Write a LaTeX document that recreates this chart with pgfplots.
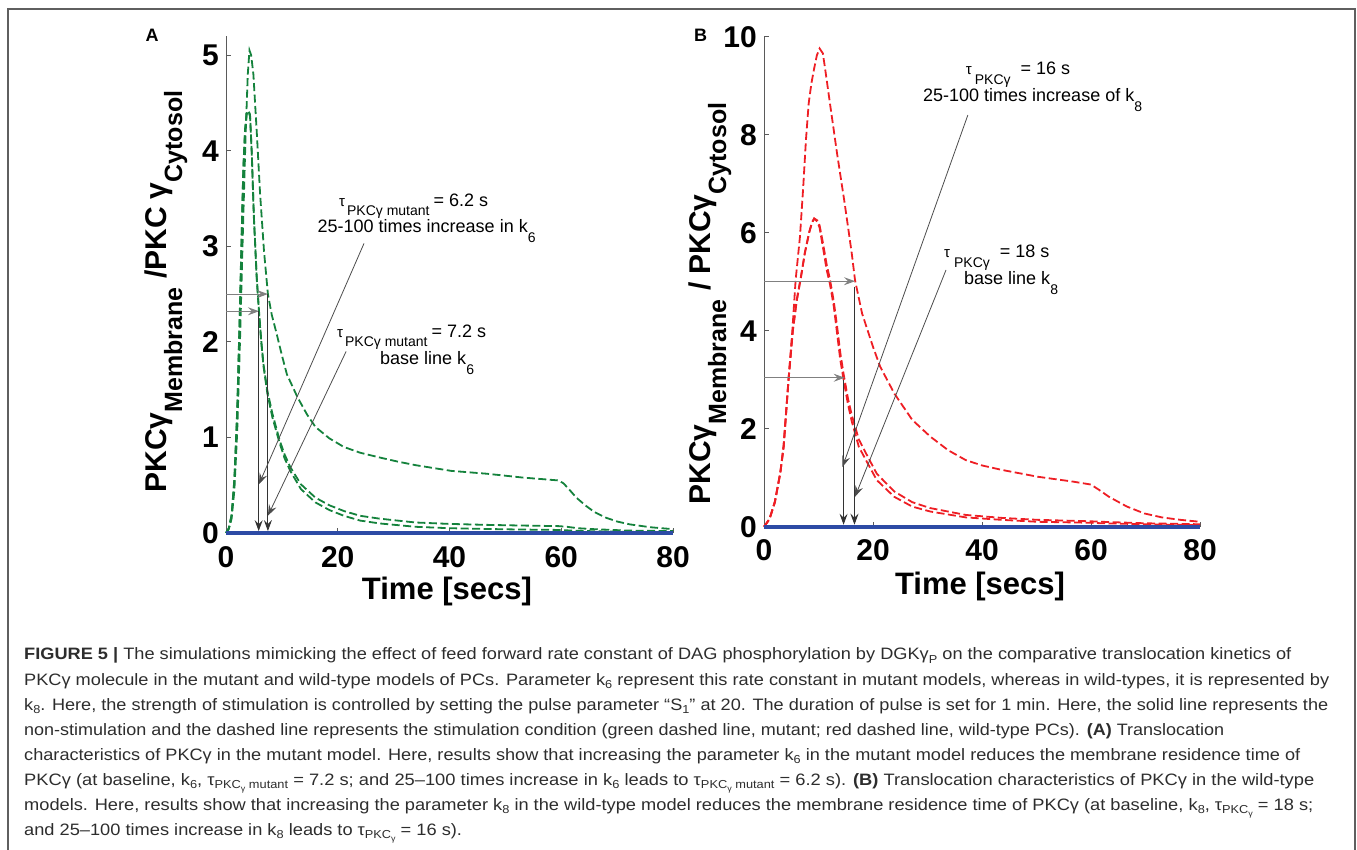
\documentclass[border=0pt]{standalone}
\usepackage{pgfplots}
\pgfplotsset{compat=1.18}
\usepackage{fontspec}
\usepackage{graphicx}
\setmainfont{Liberation Sans}
\usetikzlibrary{arrows.meta}

\definecolor{lineg}{RGB}{20,130,60}
\definecolor{liner}{RGB}{238,30,36}
\definecolor{lineb}{RGB}{45,75,165}
\definecolor{axgray}{RGB}{90,90,90}
\definecolor{capgray}{RGB}{45,45,45}
\definecolor{frame}{RGB}{95,95,95}

\newcommand\fs[1]{\fontsize{#1}{#1}\selectfont}
\newcommand\sub[1]{\raisebox{-0.22em}{\scalebox{0.7}{#1}}}
\newlength\capw
\newcommand\capseven{models. Here, results show that increasing the parameter k\sub{8} in the wild-type model reduces the membrane residence time of PKCγ (at baseline, k\sub{8}, τ\sub{PKC\sub{γ}} = 18 s;}

\pgfplotsset{
  panel/.style={
    scale only axis, clip=false,
    axis x line*=bottom, axis y line*=left,
    axis line style={draw=axgray, line width=1pt},
    xmin=0, xmax=80, ymin=0,
    xtick={0,20,...,80},
    tick align=inside, major tick length=5pt,
    tick style={draw=axgray, line width=0.8pt},
    /pgf/number format/assume math mode=true,
    ticklabel style={font=\fs{30}\bfseries, inner sep=0pt},
    xticklabel style={anchor=north, yshift=-13pt},
    yticklabel style={anchor=east, xshift=-7pt},
  },
  dashed curve/.style={line width=1.8pt, dash pattern=on 8pt off 3.5pt},
}
\tikzset{
  hin/.style={draw=gray, line width=0.9pt, -{Stealth[length=11pt, width=8pt, inset=4pt]}},
  vin/.style={draw=black!80, line width=0.9pt, -{Stealth[length=11pt, width=8pt, inset=4pt]}},
  ptr/.style={draw=black!70, line width=0.8pt, -{Stealth[length=11pt, width=8pt, inset=4pt]}},
}

\begin{document}
\settowidth\capw{\fs{16.5}\capseven}%
\pgfmathsetmacro\capratio{1289/\capw}%
\begin{tikzpicture}

% ---------------- panel A : mutant ----------------
\begin{axis}[panel, at={(226pt,316pt)}, anchor=south west,
  width=447pt, height=497pt, ymax=5.2, ytick={0,1,...,5}]
  \addplot[lineg, dashed curve] coordinates {
    (0,0) (0.5,0.04) (1,0.15) (1.5,0.45) (2,1.05) (2.5,2.0) (3,3.1) (3.5,4.15)
    (3.9,4.8) (4.2,5.05) (4.5,5.0) (4.9,4.8) (5.5,4.2) (6.1,3.55) (6.8,2.95)
    (7.5,2.5) (8.2,2.28) (9,2.1) (10,1.86) (10.9,1.66) (12.8,1.42) (14.5,1.24)
    (16,1.11) (18.5,0.99) (21.1,0.9) (24,0.84) (27.5,0.79) (30.5,0.75) (33.9,0.71)
    (40.3,0.65) (46.7,0.62) (53.1,0.58) (59.5,0.55) (60.4,0.52) (61.5,0.45)
    (62.7,0.37) (64.3,0.29) (65.9,0.22) (68,0.16) (70,0.12) (72.3,0.09) (76,0.06) (80,0.04)};
  \addplot[lineg, dashed curve] coordinates {
    (0,0) (0.5,0.05) (1,0.18) (1.5,0.55) (2,1.25) (2.5,2.35) (2.8,3.1) (3.1,3.8)
    (3.4,4.2) (3.7,4.38) (4.0,4.42) (4.3,4.38) (4.6,4.0) (5.0,3.3) (5.5,2.68)
    (5.9,2.33) (6.3,2.02) (6.7,1.77) (7.4,1.49) (8.3,1.25) (9.6,0.97) (10.5,0.82)
    (11.5,0.69) (13.4,0.51) (16,0.37) (18.5,0.29) (21.1,0.23) (24,0.18) (27.5,0.15)
    (33.9,0.11) (40,0.095) (46.7,0.085) (53,0.078) (59.5,0.072) (61,0.065) (63,0.05)
    (65.9,0.04) (72,0.025) (80,0.02)};
  \addplot[lineg, dashed curve] coordinates {
    (0,0) (0.5,0.05) (1,0.19) (1.5,0.57) (2,1.28) (2.5,2.38) (2.8,3.13) (3.1,3.82)
    (3.4,4.22) (3.7,4.39) (4.0,4.41) (4.3,4.36) (4.6,3.98) (5.0,3.28) (5.5,2.66)
    (5.9,2.31) (6.3,2.0) (6.7,1.75) (7.4,1.46) (8.3,1.21) (9.6,0.94) (10.5,0.78)
    (11.5,0.65) (13.4,0.46) (16,0.32) (18.5,0.24) (21.1,0.18) (24,0.13) (27.5,0.1)
    (33.9,0.065) (40,0.05) (46.7,0.042) (53,0.036) (59.5,0.032) (62,0.025)
    (65.9,0.018) (72,0.012) (80,0.008)};
  \addplot[lineb, line width=4pt] coordinates {(0,0) (80,0)};

  \draw[hin] (axis cs:0,2.5) -- (axis cs:7.5,2.5);
  \draw[vin] (axis cs:7.5,2.5) -- (axis cs:7.5,0.02);
  \draw[hin] (axis cs:0,2.32) -- (axis cs:5.9,2.32);
  \draw[vin] (axis cs:5.85,2.32) -- (axis cs:5.85,0.02);
  \draw[ptr] (axis cs:24.7,3.03) -- (axis cs:5.9,0.51);
  \draw[ptr] (axis cs:21.5,1.9) -- (axis cs:7.5,0.18);
\end{axis}

% ---------------- panel B : wild type ----------------
\begin{axis}[panel, at={(764pt,322.3pt)}, anchor=south west,
  width=436pt, height=490pt, ymax=10, ytick={0,2,...,10}]
  \addplot[liner, dashed curve] coordinates {
    (0,0) (1,0.15) (2,0.5) (3,1.1) (3.6,1.63) (4.5,2.99) (5.2,4.0) (5.8,5.03)
    (6.6,5.92) (7.2,6.94) (7.7,7.9) (8.2,8.64) (8.7,9.05) (9.2,9.35) (9.7,9.62)
    (10.2,9.76) (10.8,9.66) (11.4,9.2) (12.1,8.64) (13.4,7.62) (14.8,6.6) (16.1,5.58)
    (16.7,5.03) (18,4.35) (20,3.67) (21.3,3.27) (23.9,2.72) (27.2,2.18) (30.5,1.84)
    (33.8,1.56) (37,1.36) (40,1.25) (43.6,1.16) (50.2,1.02) (56.7,0.92) (60,0.86)
    (61.5,0.75) (63.3,0.61) (66.6,0.41) (69.8,0.27) (73,0.19) (76.4,0.14) (80,0.10)};
  \addplot[liner, dashed curve] coordinates {
    (0,0) (1,0.15) (2,0.5) (3,1.1) (3.6,1.63) (4.5,2.99) (5.3,4.0) (6.0,4.6)
    (6.8,5.1) (7.5,5.58) (8.3,6.0) (8.8,6.2) (9.2,6.29) (9.8,6.22) (10.2,6.1)
    (10.8,5.71) (11.5,5.24) (12.1,4.95) (12.8,4.5) (13.4,3.95) (14.0,3.4) (14.6,3.0)
    (15.4,2.5) (16.1,2.15) (17.4,1.63) (18.7,1.36) (20.7,0.95) (23.9,0.61)
    (27.2,0.41) (30.5,0.31) (37,0.19) (43.6,0.14) (50.2,0.10) (60,0.08) (62,0.07)
    (69.8,0.05) (80,0.03)};
  \addplot[liner, dashed curve] coordinates {
    (0,0) (1,0.16) (2,0.52) (3,1.12) (3.6,1.66) (4.5,3.02) (5.3,4.03) (6.0,4.63)
    (6.8,5.12) (7.5,5.6) (8.3,6.02) (8.8,6.21) (9.2,6.29) (9.8,6.25) (10.2,6.15)
    (10.8,5.8) (11.5,5.35) (12.1,5.05) (12.8,4.6) (13.4,4.1) (14.0,3.55) (14.6,3.12)
    (15.4,2.62) (16.1,2.28) (17.4,1.78) (18.7,1.5) (20.7,1.08) (23.9,0.72)
    (27.2,0.5) (30.5,0.38) (37,0.24) (43.6,0.18) (50.2,0.14) (60,0.11) (62,0.1)
    (69.8,0.07) (80,0.05)};
  \addplot[lineb, line width=4pt] coordinates {(0,0) (80,0)};

  \draw[hin] (axis cs:0,5.01) -- (axis cs:16.7,5.01);
  \draw[vin] (axis cs:16.6,4.9) -- (axis cs:16.6,0.04);
  \draw[hin] (axis cs:0,3.04) -- (axis cs:14.8,3.04);
  \draw[vin] (axis cs:14.6,3.0) -- (axis cs:14.6,0.04);
  \draw[ptr] (axis cs:37.4,8.4) -- (axis cs:14.4,1.22);
  \draw[ptr] (axis cs:33.4,5.24) -- (axis cs:16.7,0.61);
\end{axis}

% panel letters
\node[anchor=base, inner sep=0] at (152pt,807pt) {\fs{18}\bfseries A};
\node[anchor=base, inner sep=0] at (700.5pt,807pt) {\fs{18}\bfseries B};

% y labels
\node[rotate=90, anchor=base, inner sep=0] at (166pt,557.5pt)
  {\fs{30}\bfseries PKCγ\raisebox{-16pt}{\fs{25}Membrane} /PKC γ\raisebox{-16pt}{\fs{25}Cytosol}};
\node[rotate=90, anchor=base, inner sep=0] at (710pt,545.5pt)
  {\fs{30}\bfseries PKCγ\raisebox{-16pt}{\fs{25}Membrane} / PKCγ\raisebox{-16pt}{\fs{25}Cytosol}};

% x labels
\node[anchor=base, inner sep=0] at (447pt,249pt) {\fs{31}\bfseries Time [secs]};
\node[anchor=base, inner sep=0] at (980pt,254pt) {\fs{31}\bfseries Time [secs]};

% annotations, panel A
\node[anchor=base west, inner sep=0] at (339pt,642pt)
  {{\fs{15}τ}\hspace{2pt}\raisebox{-9pt}{\fs{14}PKCγ mutant}\hspace{4pt}{\fs{18}= 6.2 s}};
\node[anchor=base west, inner sep=0] at (317.5pt,616pt)
  {\fs{18}25-100 times increase in k\raisebox{-10pt}{\fs{14}6}};
\node[anchor=base west, inner sep=0] at (337pt,511pt)
  {{\fs{15}τ}\hspace{2pt}\raisebox{-9pt}{\fs{14}PKCγ mutant}\hspace{4pt}{\fs{18}= 7.2 s}};
\node[anchor=base west, inner sep=0] at (380pt,484pt)
  {\fs{18}base line k\raisebox{-10pt}{\fs{14}6}};

% annotations, panel B
\node[anchor=base west, inner sep=0] at (965.7pt,774pt)
  {{\fs{15}τ}\hspace{3pt}\raisebox{-10pt}{\fs{14}PKCγ}\hspace{10pt}{\fs{18}= 16 s}};
\node[anchor=base west, inner sep=0] at (923pt,747pt)
  {\fs{18}25-100 times increase of k\raisebox{-10pt}{\fs{14}8}};
\node[anchor=base west, inner sep=0] at (944pt,591pt)
  {{\fs{15}τ}\hspace{4pt}\raisebox{-10pt}{\fs{14}PKCγ}\hspace{10pt}{\fs{18}= 18 s}};
\node[anchor=base west, inner sep=0] at (964pt,564pt)
  {\fs{18}base line k\raisebox{-10pt}{\fs{14}8}};

% caption
\begin{scope}[every node/.style={anchor=base west, inner sep=0, text=capgray}]
\node at (24pt,189pt) {\resizebox{1267pt}{\height}{\fs{16.5}\textbf{FIGURE 5 |} The simulations mimicking the effect of feed forward rate constant of DAG phosphorylation by DGKγ\sub{P} on the comparative translocation kinetics of}};
\node at (24pt,164pt) {\resizebox{1305pt}{\height}{\fs{16.5}PKCγ molecule in the mutant and wild-type models of PCs. Parameter k\sub{6} represent this rate constant in mutant models, whereas in wild-types, it is represented by}};
\node at (24pt,139pt) {\resizebox{1304pt}{\height}{\fs{16.5}k\sub{8}. Here, the strength of stimulation is controlled by setting the pulse parameter “S\sub{1}” at 20. The duration of pulse is set for 1 min. Here, the solid line represents the}};
\node at (24pt,114pt) {\resizebox{1200pt}{\height}{\fs{16.5}non-stimulation and the dashed line represents the stimulation condition (green dashed line, mutant; red dashed line, wild-type PCs). \textbf{(A)} Translocation}};
\node at (24pt,89pt) {\resizebox{1276pt}{\height}{\fs{16.5}characteristics of PKCγ in the mutant model. Here, results show that increasing the parameter k\sub{6} in the mutant model reduces the membrane residence time of}};
\node at (24pt,64pt) {\resizebox{1290pt}{\height}{\fs{16.5}PKCγ (at baseline, k\sub{6}, τ\sub{PKC\sub{γ} mutant} = 7.2 s; and 25–100 times increase in k\sub{6} leads to τ\sub{PKC\sub{γ} mutant} = 6.2 s). \textbf{(B)} Translocation characteristics of PKCγ in the wild-type}};
\node at (24pt,39pt) {\resizebox{1289pt}{\height}{\fs{16.5}\capseven}};
\node at (24pt,14pt) {\scalebox{\capratio}[1]{\fs{16.5}and 25–100 times increase in k\sub{8} leads to τ\sub{PKC\sub{γ}} = 16 s).}};
\end{scope}

% frame
\draw[frame, line width=2pt] (8pt,-20pt) -- (8pt,840pt) -- (1355pt,840pt) -- (1355pt,-20pt);

\pgfresetboundingbox
\path[use as bounding box] (0pt,0pt) rectangle (1357pt,849pt);
\end{tikzpicture}
\end{document}
